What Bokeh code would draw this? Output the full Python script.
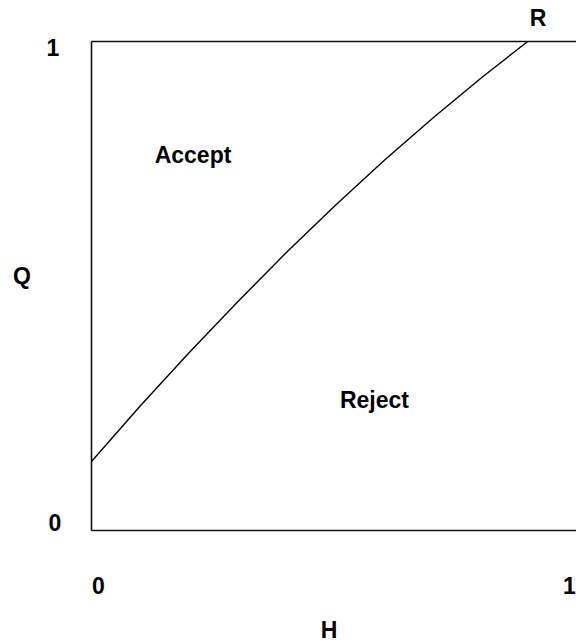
from bokeh.plotting import figure
from bokeh.models import Range1d
from bokeh.core.properties import value
from bokeh.embed import file_html
from bokeh.resources import INLINE

# Boundary curve R: acceptance threshold Q as a function of H
curve_h = [0.0, 0.1, 0.2, 0.3, 0.4, 0.5, 0.6, 0.7, 0.8, 0.892]
curve_q = [0.141, 0.255, 0.364, 0.469, 0.570, 0.666, 0.758, 0.845, 0.928, 1.0]

# Unit box (H and Q both from 0 to 1)
box_h = [0, 1]
box_q = [0, 1]

# Tick labels
h_tick_labels = ["0", "1"]
h_tick_pos = [0.014, 0.9775]
q_tick_labels = ["0", "1"]
q_tick_pos = [0.016, 0.987]

# Region / curve / axis labels
region_labels = ["Accept", "Reject"]
region_h = [0.2076, 0.5787]
region_q = [0.767, 0.266]

FONT = value("Liberation Sans")
FS = "23px"

p = figure(width=576, height=642, output_backend="svg", toolbar_location=None,
           x_range=Range1d(-0.18609, 0.99182), y_range=Range1d(-0.22904, 1.08384),
           x_axis_location=None, y_axis_location=None, min_border=0)
p.grid.visible = False
p.outline_line_color = None
p.background_fill_color = "white"
p.border_fill_color = "white"

# box (right edge lies beyond the visible range, as in the reference)
lc = "#111111"
p.line([box_h[0], box_h[1]], [box_q[1], box_q[1]], line_color=lc, line_width=1.6)
p.line([box_h[0], box_h[1]], [box_q[0], box_q[0]], line_color=lc, line_width=1.6)
p.line([box_h[0], box_h[0]], [box_q[0], box_q[1]], line_color=lc, line_width=1.6)
p.line([box_h[1], box_h[1]], [box_q[0], box_q[1]], line_color=lc, line_width=1.6)

# curve
p.line(curve_h, curve_q, line_color="black", line_width=1.4)

def txt(xs, ys, texts):
    p.text(x=xs, y=ys, text=texts, text_font=FONT, text_font_size=FS,
           text_font_style="bold", text_align="center", text_baseline="alphabetic",
           text_color="black")

txt(h_tick_pos, [-0.112, -0.112], h_tick_labels)
txt([-0.0746, -0.0787], q_tick_pos, q_tick_labels)
txt(region_h, region_q, region_labels)
txt([0.486], [-0.203], ["H"])
txt([-0.142], [0.521], ["Q"])
txt([0.913], [1.049], ["R"])

open("out.html", "w").write(file_html(p, INLINE))
